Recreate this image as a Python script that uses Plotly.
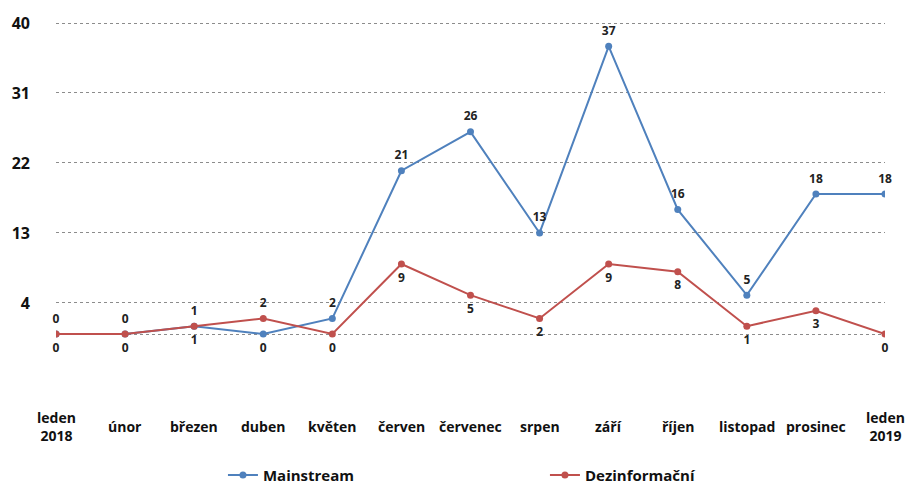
import plotly.graph_objs as go

months = ['leden<br>2018', 'únor', 'březen', 'duben', 'květen', 'červen', 'červenec',
          'srpen', 'září', 'říjen', 'listopad', 'prosinec', 'leden<br>2019']
mainstream = [0, 0, 1, 0, 2, 21, 26, 13, 37, 16, 5, 18, 18]
dezinfo = [0, 0, 1, 2, 0, 9, 5, 2, 9, 8, 1, 3, 0]
y_ticks = [0, 4, 13, 22, 31, 40]
y_tick_text = ['', '4', '13', '22', '31', '40']

blue = '#4F81BD'
red = '#C0504D'
font_name = 'Open Sans'
label_font = dict(size=12, color='#222222', family=font_name, weight='bold')

# label placement: mostly above for blue, below for red (duben swapped)
blue_pos = ['top center'] * len(months)
red_pos = ['bottom center'] * len(months)
blue_pos[3] = 'bottom center'
red_pos[3] = 'top center'

x_idx = list(range(len(months)))

fig = go.Figure()

fig.add_trace(go.Scatter(x=x_idx, y=mainstream,
                         mode='lines+markers',
                         name='Mainstream',
                         line=dict(color=blue, width=2),
                         marker=dict(color=blue, size=7)))

fig.add_trace(go.Scatter(x=x_idx, y=dezinfo,
                         mode='lines+markers',
                         name='Dezinformační',
                         line=dict(color=red, width=2),
                         marker=dict(color=red, size=7)))

# value labels - invisible bigger markers push the text a bit further out
for vals, pos in [(mainstream, blue_pos), (dezinfo, red_pos)]:
    fig.add_trace(go.Scatter(x=x_idx, y=vals,
                             mode='markers+text',
                             marker=dict(size=12, opacity=0),
                             text=[str(v) for v in vals],
                             textposition=pos,
                             textfont=label_font,
                             hoverinfo='skip',
                             showlegend=False,
                             cliponaxis=False))

# category labels under the plot, centred vertically like the original
for i, m in enumerate(months):
    fig.add_annotation(x=i, y=-0.055, xref='x', yref='paper', text='<b>' + m + '</b>',
                       showarrow=False, yanchor='middle', xanchor='center',
                       font=dict(size=14, color='#111111', family=font_name))

fig.update_layout(width=910, height=486,
                  paper_bgcolor='white',
                  plot_bgcolor='white',
                  margin=dict(l=50, r=25, t=15, b=81),
                  font=dict(family=font_name, color='#111111'))

fig.update_xaxes(range=[0, 12], showgrid=False, zeroline=False, showline=False,
                 showticklabels=False, ticks='')

fig.update_yaxes(range=[-9.13, 41.03], tickmode='array',
                 tickvals=y_ticks, ticktext=y_tick_text,
                 tickfont=dict(size=16, family=font_name, weight='bold', color='#111111'),
                 showgrid=True, gridcolor='#8c8c8c', griddash='dot', gridwidth=1,
                 zeroline=False, showline=False, ticks='', ticklabelstandoff=25)

fig.update_layout(legend=dict(orientation='h',
                              xref='container', yref='container',
                              x=0.245, y=0.022,
                              xanchor='left', yanchor='middle',
                              entrywidth=277,
                              font=dict(size=15, family=font_name, weight='bold', color='#111111')))

fig.write_html("out.html", config={'displayModeBar': False},
               post_script="document.body.style.margin='0';")
